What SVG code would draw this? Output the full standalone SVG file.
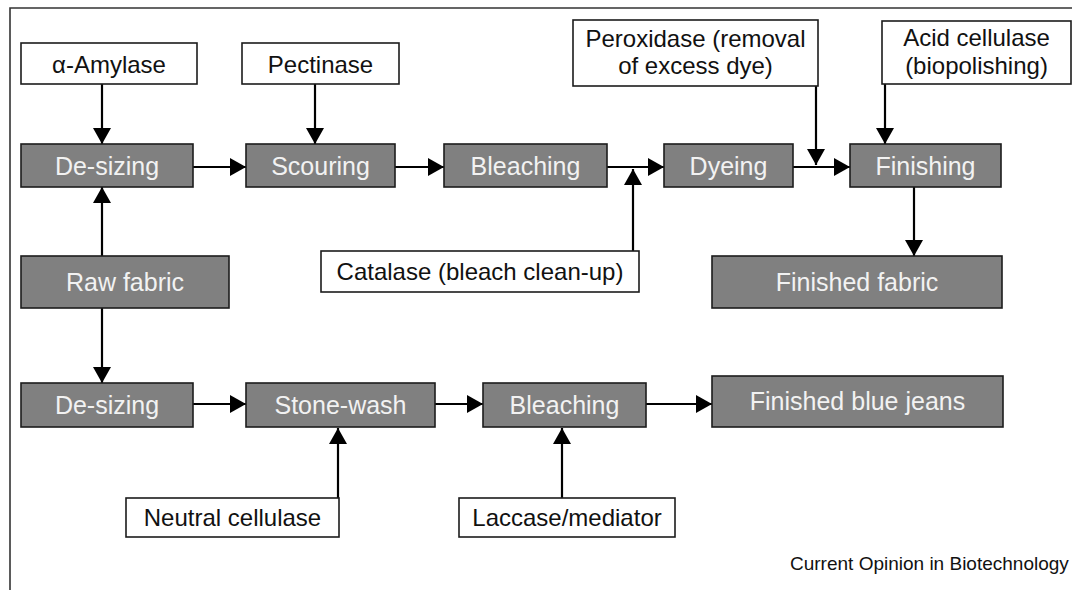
<svg xmlns="http://www.w3.org/2000/svg" width="1072" height="590" viewBox="0 0 1072 590">
  <style>
    .step rect { fill: #808080; stroke: #1c1c1c; stroke-width: 1.6; }
    .step text { fill: #f2f2f2; font-family: "Liberation Sans", Arial, sans-serif; font-size: 25px; text-anchor: middle; }
    .enzyme rect { fill: #ffffff; stroke: #1c1c1c; stroke-width: 1.6; }
    .enzyme text { fill: #111111; font-family: "Liberation Sans", Arial, sans-serif; font-size: 24px; text-anchor: middle; }
    .edge { stroke: #000000; stroke-width: 2.2; fill: none; marker-end: url(#arrow); }
    .frame { stroke: #333333; stroke-width: 1.6; fill: none; }
    .caption { fill: #111111; font-family: "Liberation Sans", Arial, sans-serif; font-size: 19px; }
  </style>
  <defs>
    <marker id="arrow" markerUnits="userSpaceOnUse" markerWidth="17" markerHeight="18" refX="16" refY="9" orient="auto">
      <path d="M0,0 L16,9 L0,18 Z" fill="#000000"/>
    </marker>
  </defs>

  <rect width="1072" height="590" fill="#ffffff"/>
  <!-- figure frame (top and left edges) -->
  <path class="frame" d="M10,590 V8 H1072"/>

  <!-- connectors -->
  <g id="connectors">
    <line class="edge" x1="102" y1="84" x2="102" y2="144"/>
    <line class="edge" x1="315" y1="84" x2="315" y2="144"/>
    <line class="edge" x1="193" y1="167" x2="246" y2="167"/>
    <line class="edge" x1="395" y1="167" x2="444" y2="167"/>
    <line class="edge" x1="607" y1="167" x2="664" y2="167"/>
    <line class="edge" x1="633" y1="251" x2="633" y2="169"/>
    <line class="edge" x1="816" y1="86" x2="816" y2="165"/>
    <line class="edge" x1="793" y1="167" x2="850" y2="167"/>
    <line class="edge" x1="885" y1="84" x2="885" y2="144"/>
    <line class="edge" x1="914" y1="187" x2="914" y2="256"/>
    <line class="edge" x1="102" y1="256" x2="102" y2="187"/>
    <line class="edge" x1="102" y1="308" x2="102" y2="383"/>
    <line class="edge" x1="193" y1="404" x2="246" y2="404"/>
    <line class="edge" x1="435" y1="404" x2="483" y2="404"/>
    <line class="edge" x1="646" y1="404" x2="712" y2="404"/>
    <line class="edge" x1="338" y1="498" x2="338" y2="428"/>
    <line class="edge" x1="562" y1="498" x2="562" y2="428"/>
  </g>

  <!-- enzyme boxes -->
  <g id="amylase" class="enzyme">
    <rect x="21" y="43" width="176" height="41"/>
    <text x="109" y="72.5">α-Amylase</text>
  </g>
  <g id="pectinase" class="enzyme">
    <rect x="242" y="43" width="157" height="41"/>
    <text x="320.5" y="72.5">Pectinase</text>
  </g>
  <g id="peroxidase" class="enzyme">
    <rect x="573" y="20" width="245" height="66"/>
    <text x="695.5" y="46.5">Peroxidase (removal</text>
    <text x="695.5" y="73.5">of excess dye)</text>
  </g>
  <g id="acid-cellulase" class="enzyme">
    <rect x="882" y="21" width="189" height="63"/>
    <text x="976.5" y="45.5">Acid cellulase</text>
    <text x="976.5" y="74">(biopolishing)</text>
  </g>
  <g id="catalase" class="enzyme">
    <rect x="321" y="251" width="318" height="41"/>
    <text x="480" y="280">Catalase (bleach clean-up)</text>
  </g>
  <g id="neutral-cellulase" class="enzyme">
    <rect x="126" y="498" width="213" height="39"/>
    <text x="232.5" y="526">Neutral cellulase</text>
  </g>
  <g id="laccase" class="enzyme">
    <rect x="459" y="498" width="216" height="39"/>
    <text x="567" y="526">Laccase/mediator</text>
  </g>

  <!-- process steps -->
  <g id="desizing-1" class="step">
    <rect x="21" y="144" width="172" height="43"/>
    <text x="107" y="174.5">De-sizing</text>
  </g>
  <g id="scouring" class="step">
    <rect x="246" y="144" width="149" height="43"/>
    <text x="320.5" y="174.5">Scouring</text>
  </g>
  <g id="bleaching-1" class="step">
    <rect x="444" y="144" width="163" height="43"/>
    <text x="525.5" y="174.5">Bleaching</text>
  </g>
  <g id="dyeing" class="step">
    <rect x="664" y="144" width="129" height="43"/>
    <text x="728.5" y="174.5">Dyeing</text>
  </g>
  <g id="finishing" class="step">
    <rect x="850" y="144" width="151" height="43"/>
    <text x="925.5" y="174.5">Finishing</text>
  </g>
  <g id="raw-fabric" class="step">
    <rect x="21" y="256" width="208" height="52"/>
    <text x="125" y="290.5">Raw fabric</text>
  </g>
  <g id="finished-fabric" class="step">
    <rect x="712" y="256" width="290" height="52"/>
    <text x="857" y="290.5">Finished fabric</text>
  </g>
  <g id="desizing-2" class="step">
    <rect x="21" y="383" width="172" height="44"/>
    <text x="107" y="413.5">De-sizing</text>
  </g>
  <g id="stone-wash" class="step">
    <rect x="246" y="383" width="189" height="44"/>
    <text x="340.5" y="413.5">Stone-wash</text>
  </g>
  <g id="bleaching-2" class="step">
    <rect x="483" y="383" width="163" height="44"/>
    <text x="564.5" y="413.5">Bleaching</text>
  </g>
  <g id="blue-jeans" class="step">
    <rect x="712" y="376" width="291" height="51"/>
    <text x="857.5" y="410">Finished blue jeans</text>
  </g>

  <text class="caption" x="790" y="570">Current Opinion in Biotechnology</text>
</svg>
